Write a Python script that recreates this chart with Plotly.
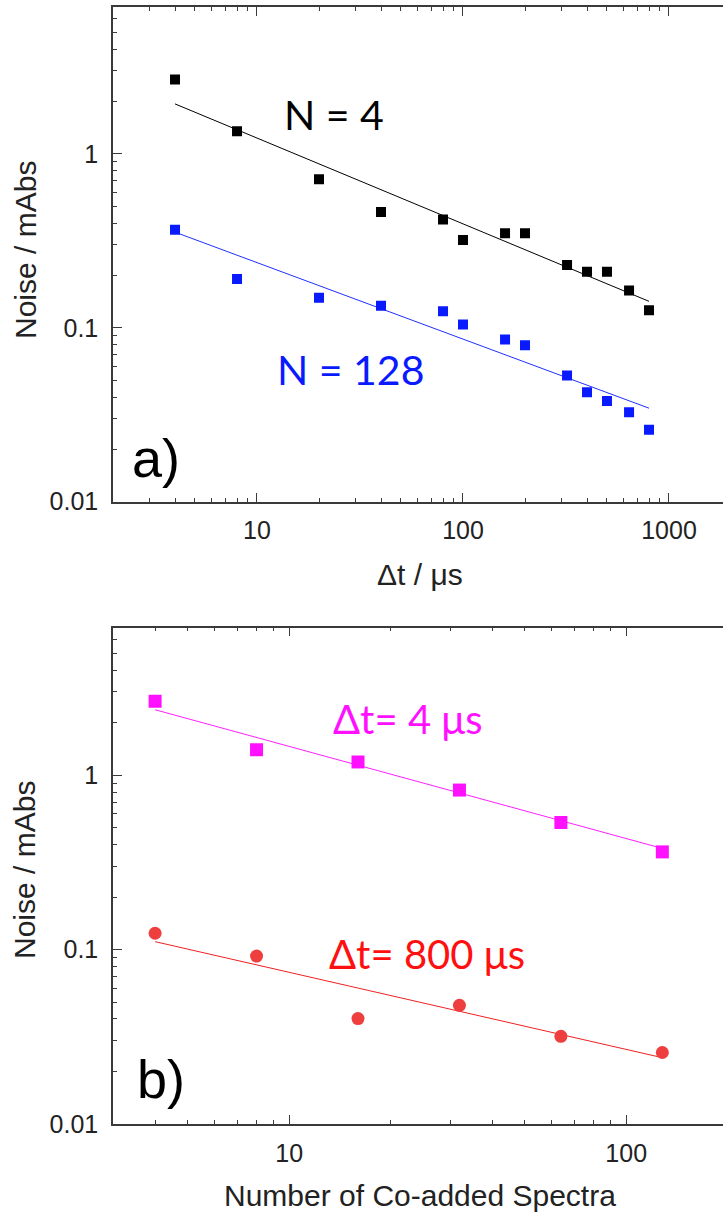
import numpy as np
import plotly.graph_objects as go

# ---- panel a: noise vs. time resolution ----
dt_us = [4, 8, 20, 40, 80, 100, 160, 200, 320, 400, 500, 640, 800]
noise_n4 = [2.68, 1.35, 0.716, 0.464, 0.42, 0.32, 0.35, 0.35, 0.23, 0.21, 0.21, 0.164, 0.126]
noise_n128 = [0.367, 0.191, 0.149, 0.134, 0.1245, 0.1044, 0.0857, 0.0795, 0.0531, 0.0426, 0.038, 0.0327, 0.0259]
fit_dt = [4, 800]
fit_n4 = [1.94, 0.142]
fit_n128 = [0.355, 0.0345]

# ---- panel b: noise vs. number of co-added spectra ----
n_spectra = [4, 8, 16, 32, 64, 128]
noise_dt4 = [2.65, 1.40, 1.19, 0.821, 0.535, 0.363]
noise_dt800 = [0.124, 0.0917, 0.0402, 0.0479, 0.0318, 0.0257]
fit_n = [4, 128]
fit_dt4 = [2.37, 0.38]
fit_dt800 = [0.111, 0.0240]

y_ticks = [0.01, 0.1, 1]
y_ticklabels = ["0.01", "0.1", "1"]
xa_ticks = [10, 100, 1000]
xb_ticks = [10, 100]

W, H = 723, 1213
ML, MR, MT, MB = 113, 0, 7, 89
PW, PH = W - ML - MR, H - MT - MB


def px(x):
    return (x - ML) / PW


def py(y):
    return (H - MB - y) / PH


fig = go.Figure()

# panel a
fig.add_trace(go.Scatter(x=fit_dt, y=fit_n4, mode="lines", line=dict(color="black", width=1),
                         xaxis="x", yaxis="y", showlegend=False))
fig.add_trace(go.Scatter(x=fit_dt, y=fit_n128, mode="lines", line=dict(color="#2030ff", width=1),
                         xaxis="x", yaxis="y", showlegend=False))
fig.add_trace(go.Scatter(x=dt_us, y=noise_n4, mode="markers",
                         marker=dict(symbol="square", size=10, color="black"),
                         xaxis="x", yaxis="y", showlegend=False))
fig.add_trace(go.Scatter(x=dt_us, y=noise_n128, mode="markers",
                         marker=dict(symbol="square", size=10, color="#0a1aff"),
                         xaxis="x", yaxis="y", showlegend=False))

# panel b
fig.add_trace(go.Scatter(x=fit_n, y=fit_dt4, mode="lines", line=dict(color="#ff20ff", width=1),
                         xaxis="x2", yaxis="y2", showlegend=False))
fig.add_trace(go.Scatter(x=fit_n, y=fit_dt800, mode="lines", line=dict(color="#f02020", width=1),
                         xaxis="x2", yaxis="y2", showlegend=False))
fig.add_trace(go.Scatter(x=n_spectra, y=noise_dt4, mode="markers",
                         marker=dict(symbol="square", size=13, color="#ff10ff"),
                         xaxis="x2", yaxis="y2", showlegend=False))
fig.add_trace(go.Scatter(x=n_spectra, y=noise_dt800, mode="markers",
                         marker=dict(symbol="circle", size=13, color="#ee3e3e"),
                         xaxis="x2", yaxis="y2", showlegend=False))

axis_color = "#3a3a3a"
tick_font = dict(family="Liberation Sans, Arial, sans-serif", size=25, color="#222222")


def log_minor(decades, lo, hi):
    vals = []
    for d in decades:
        for m in range(2, 10):
            v = m * d
            if lo <= v <= hi:
                vals.append(v)
    return vals


y_range = [-2, np.log10(7)]

common_x = dict(type="log", showline=True, linecolor=axis_color, linewidth=1.5,
                mirror="ticks", ticks="inside", ticklen=9, tickwidth=1.2, tickcolor=axis_color,
                showgrid=False, zeroline=False, tickfont=tick_font, tickmode="array")
common_y = dict(type="log", showline=True, linecolor=axis_color, linewidth=1.5,
                mirror=False, ticks="inside", ticklen=9, tickwidth=1.2, tickcolor=axis_color,
                showgrid=False, zeroline=False, tickfont=tick_font, tickmode="array",
                tickvals=y_ticks, ticktext=y_ticklabels, ticklabelstandoff=8,
                range=y_range,
                minor=dict(ticks="inside", ticklen=4, tickwidth=1.2, tickcolor=axis_color,
                           tickmode="array", tickvals=log_minor([0.01, 0.1, 1], 0.01, 7),
                           showgrid=False))
# right-hand frame: only the tips of the major ticks reach into view
right_y = dict(type="log", side="right", showline=False, ticks="inside", ticklen=3,
               tickwidth=1.2, tickcolor=axis_color, showticklabels=False, showgrid=False,
               zeroline=False, tickmode="array", tickvals=y_ticks, range=y_range)

# panel a x range: 2 .. right edge, 206 px per decade
xa_lo = np.log10(2)
xa_hi = xa_lo + PW / 206.0
# panel b x range: 3 .. right edge, 337 px per decade
xb_lo = np.log10(3)
xb_hi = xb_lo + PW / 337.0

top_bottom = py(501.7)
bot_top = py(627.7)

fig.update_layout(
    width=W, height=H,
    margin=dict(l=ML, r=MR, t=MT, b=MB, pad=0),
    paper_bgcolor="white", plot_bgcolor="white",
    xaxis=dict(common_x, anchor="y", domain=[0, 1], range=[xa_lo, xa_hi],
               tickvals=xa_ticks, ticktext=["10", "100", "1000"], ticklabelstandoff=6,
               minor=dict(ticks="inside", ticklen=4, tickwidth=1.2, tickcolor=axis_color,
                          tickmode="array", tickvals=log_minor([1, 10, 100, 1000], 2, 1850),
                          showgrid=False)),
    yaxis=dict(common_y, anchor="x", domain=[top_bottom, 1]),
    yaxis3=dict(right_y, anchor="x", overlaying="y", domain=[top_bottom, 1]),
    xaxis2=dict(common_x, anchor="y2", domain=[0, 1], range=[xb_lo, xb_hi],
                tickvals=xb_ticks, ticktext=["10", "100"], ticklabelstandoff=6,
                minor=dict(ticks="inside", ticklen=4, tickwidth=1.2, tickcolor=axis_color,
                           tickmode="array", tickvals=log_minor([1, 10, 100], 3, 195),
                           showgrid=False)),
    yaxis2=dict(common_y, anchor="x2", domain=[0, bot_top]),
    yaxis4=dict(right_y, anchor="x2", overlaying="y2", domain=[0, bot_top]),
)

title_font = dict(family="Liberation Sans, Arial, sans-serif", size=30, color="#222222")
label_font = "Lato, Open Sans, sans-serif"

annotations = [
    dict(text="Noise / mAbs", x=px(25), y=py(250), textangle=-90, font=title_font),
    dict(text="Noise / mAbs", x=px(25), y=py(870), textangle=-90, font=title_font),
    dict(text="\u0394t / \u03bcs", x=px(420), y=py(575), font=title_font),
    dict(text="Number of Co-added Spectra", x=px(420), y=py(1195), font=title_font),
    dict(text="N = 4", x=px(334), y=py(114), font=dict(family=label_font, size=41, color="black")),
    dict(text="N = 128", x=px(350), y=py(369), font=dict(family=label_font, size=41, color="#0a1aff")),
    dict(text="\u0394t= 4 \u03bcs", x=px(408), y=py(719), font=dict(family=label_font, size=40, color="#ff10ff")),
    dict(text="\u0394t= 800 \u03bcs", x=px(427), y=py(954), font=dict(family=label_font, size=40, color="#ff1010")),
    dict(text="a)", x=px(156), y=py(458), font=dict(family="Liberation Sans, Arial, sans-serif", size=54, color="black")),
    dict(text="b)", x=px(161), y=py(1079), font=dict(family="Liberation Sans, Arial, sans-serif", size=54, color="black")),
]
for a in annotations:
    fig.add_annotation(xref="paper", yref="paper", showarrow=False,
                       xanchor="center", yanchor="middle", **a)

fig.write_html("out.html")
